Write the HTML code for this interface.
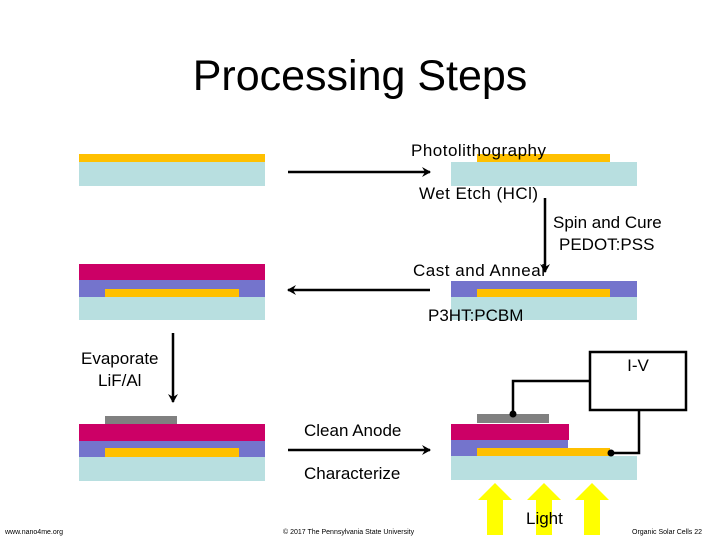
<!DOCTYPE html>
<html><head><style>
body{margin:0;width:720px;height:540px;background:#fff;overflow:hidden;font-family:"Liberation Sans",sans-serif}
</style></head><body>
<svg width="720" height="540" xmlns="http://www.w3.org/2000/svg" font-family="Liberation Sans, sans-serif">
<defs><marker id="a" markerWidth="10" markerHeight="12" refX="8" refY="6" orient="auto" markerUnits="userSpaceOnUse"><path d="M0,1 L9,6 L0,11 L3,6 Z" fill="#000"/></marker></defs>
<text x="360" y="90" font-size="43" text-anchor="middle">Processing Steps</text>
<rect x="79" y="154" width="186" height="8" fill="#ffc000"/>
<rect x="79" y="162" width="186" height="24" fill="#b8dfe0"/>
<rect x="451" y="162" width="186" height="24" fill="#b8dfe0"/>
<rect x="477" y="154" width="133" height="8" fill="#ffc000"/>
<rect x="451" y="297" width="186" height="23" fill="#b8dfe0"/>
<rect x="451" y="281" width="186" height="16" fill="#7474cc"/>
<rect x="477" y="289" width="133" height="8" fill="#ffc000"/>
<rect x="79" y="297" width="186" height="23" fill="#b8dfe0"/>
<rect x="79" y="280" width="186" height="17" fill="#7474cc"/>
<rect x="79" y="264" width="186" height="16" fill="#cc0066"/>
<rect x="105" y="289" width="134" height="8" fill="#ffc000"/>
<rect x="79" y="457" width="186" height="24" fill="#b8dfe0"/>
<rect x="79" y="441" width="186" height="16" fill="#7474cc"/>
<rect x="79" y="424" width="186" height="17" fill="#cc0066"/>
<rect x="105" y="448" width="134" height="9" fill="#ffc000"/>
<rect x="105" y="416" width="72" height="8" fill="#808080"/>
<rect x="451" y="456" width="186" height="24" fill="#b8dfe0"/>
<rect x="451" y="440" width="117" height="16" fill="#7474cc"/>
<rect x="451" y="424" width="118" height="16" fill="#cc0066"/>
<rect x="477" y="448" width="133" height="8" fill="#ffc000"/>
<rect x="477" y="414" width="72" height="9" fill="#808080"/>
<g stroke="#000" stroke-width="2.5" fill="none" marker-end="url(#a)">
<line x1="288" y1="172" x2="430" y2="172"/>
<line x1="545" y1="198" x2="545" y2="272"/>
<line x1="430" y1="290" x2="288" y2="290"/>
<line x1="173" y1="333" x2="173" y2="402"/>
<line x1="288" y1="450" x2="430" y2="450"/>
</g>
<rect x="590" y="352" width="96" height="58" fill="#fff" stroke="#000" stroke-width="2.5"/>
<text x="638" y="371" font-size="17" text-anchor="middle">I-V</text>
<polyline points="513,414 513,381 590,381" fill="none" stroke="#000" stroke-width="2.5"/>
<polyline points="639,410 639,453 611,453" fill="none" stroke="#000" stroke-width="2.5"/>
<circle cx="513" cy="414" r="3.5"/><circle cx="611" cy="453" r="3.5"/>
<g fill="#ffff00">
<polygon points="478,500 495,483 512,500 503,500 503,535 487,535 487,500"/>
<polygon points="527,500 544,483 561,500 552,500 552,535 536,535 536,500"/>
<polygon points="575,500 592,483 609,500 600,500 600,535 584,535 584,500"/>
</g>
<g font-size="17">
<text x="411" y="156" textLength="135">Photolithography</text>
<text x="419" y="199" textLength="119">Wet Etch (HCl)</text>
<text x="553" y="228">Spin and Cure</text>
<text x="559" y="250">PEDOT:PSS</text>
<text x="413" y="276" textLength="132">Cast and Anneal</text>
<text x="428" y="321">P3HT:PCBM</text>
<text x="81" y="364">Evaporate</text>
<text x="98" y="386">LiF/Al</text>
<text x="304" y="436">Clean Anode</text>
<text x="304" y="479">Characterize</text>
<text x="526" y="524">Light</text>
</g>
<g font-size="7">
<text x="5" y="534">www.nano4me.org</text>
<text x="283" y="534">© 2017 The Pennsylvania State University</text>
<text x="632" y="534">Organic Solar Cells 22</text>
</g>
</svg>
</body></html>
